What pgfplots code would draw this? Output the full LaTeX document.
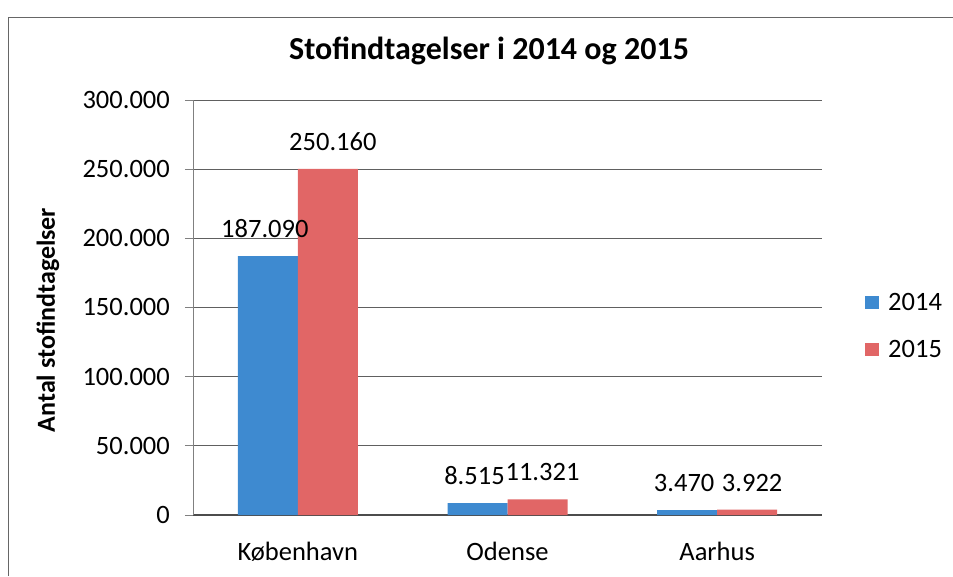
\documentclass[border=0pt]{standalone}
\usepackage{pgfplots}
\pgfplotsset{compat=1.18}
\usepackage{fontspec}
\setmainfont{Carlito}
\definecolor{bblue}{RGB}{62,138,208}
\definecolor{bred}{RGB}{225,102,102}
\pgfplotsset{/pgf/number format/fixed, /pgf/number format/precision=0, /pgf/number format/1000 sep={.}, /pgf/number format/assume math mode=true}
\begin{document}
\begin{tikzpicture}[x=1pt,y=1pt]
\useasboundingbox (0,0) rectangle (953,576);
\draw[gray!80!black, line width=1pt] (8,0) -- (8,558) -- (953,558);
\begin{axis}[
  at={(193pt,61pt)}, anchor=south west,
  scale only axis, width=629pt, height=415pt,
  ybar=0pt, bar width=60pt,
  xmin=-0.5, xmax=2.5, ymin=0, ymax=300000,
  xtick={0,1,2}, xticklabels={København,Odense,Aarhus},
  ytick={0,50000,100000,150000,200000,250000,300000},
  scaled y ticks=false,
  axis x line*=bottom, axis y line*=left,
  x axis line style={-, gray!60!black, line width=1.2pt},
  y axis line style={-, gray, line width=0.8pt},
  ymajorgrids, grid style={gray!75!black, line width=0.8pt},
  xtick style={draw=none},
  ytick style={gray, line width=0.8pt},
  tick align=outside, major tick length=8pt,
  ticklabel style={font=\fontsize{26.5}{31}\selectfont},
  yticklabel style={anchor=east, inner sep=0pt, xshift=-15pt},
  xticklabel style={anchor=base, inner sep=0pt, yshift=-37pt},
  nodes near coords,
  nodes near coords style={font=\fontsize{26.5}{31}\selectfont, anchor=south, inner sep=0pt, yshift=18pt, black},
  legend style={at={(1.0684,0.455)}, anchor=west, draw=none, fill=none, font=\fontsize{26.5}{31}\selectfont, row sep=28pt, column sep=9pt, inner sep=0pt, nodes={inner sep=0pt}},
  legend image code/.code={\fill[#1,draw=none] (0pt,-6.5pt) rectangle (14pt,6.5pt);},
  legend cell align=left,
]
\addplot[fill=bblue, draw=none, nodes near coords style={xshift=-3pt}] coordinates {(0,187090) (1,8515) (2,3470)};
\addplot[fill=bred, draw=none, nodes near coords style={xshift=5pt}] coordinates {(0,250160) (1,11321) (2,3922)};
\legend{2014,2015}
\end{axis}
\node[rotate=90, font=\bfseries\fontsize{26}{31}\selectfont] at (48,256) {Antal stofindtagelser};
\node[anchor=base, font=\bfseries\fontsize{32}{38}\selectfont] at (489,516) {Stofindtagelser i 2014 og 2015};
\end{tikzpicture}
\end{document}
